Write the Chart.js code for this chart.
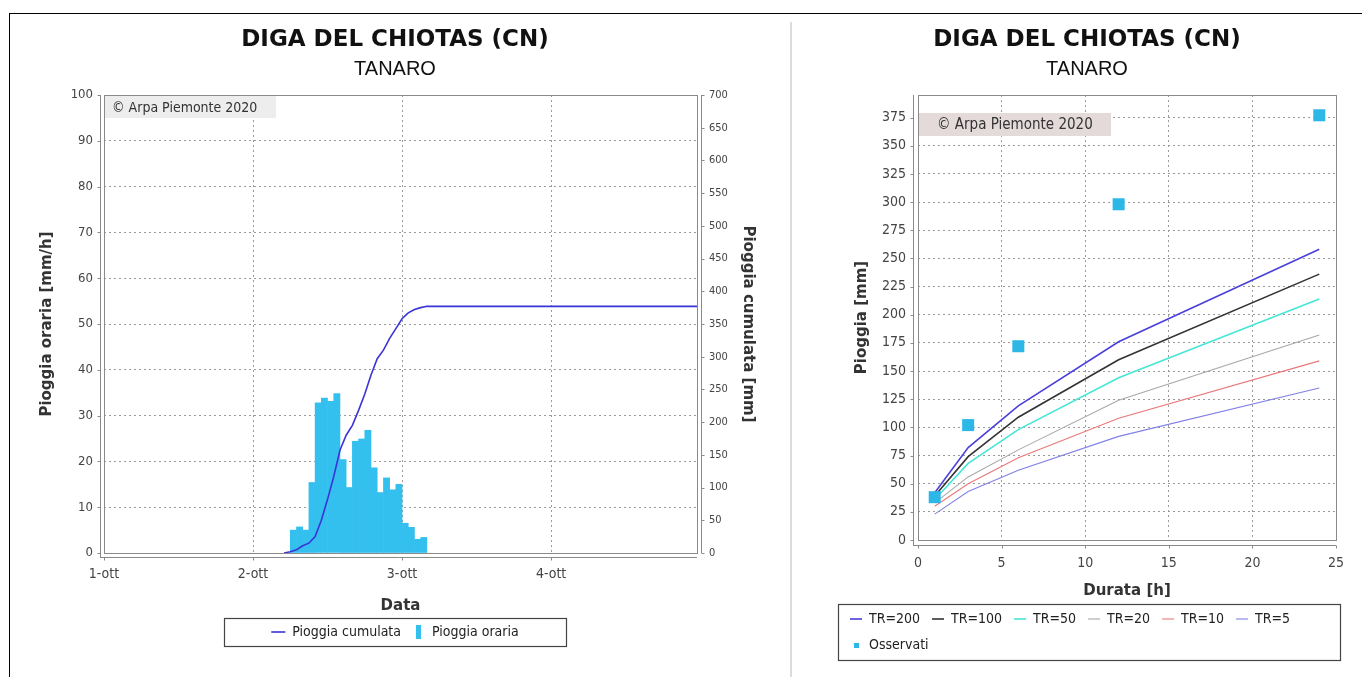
<!DOCTYPE html>
<html>
<head>
<meta charset="utf-8">
<script src="https://cdn.jsdelivr.net/npm/chart.js@4/dist/chart.umd.min.js"></script>
<style>
    html, body { margin: 0; padding: 0; background: #fff; }
    body { width: 1362px; height: 677px; position: relative; overflow: hidden; }
    #frame { position: absolute; left: 9px; top: 13px; right: -2px; bottom: -2px; border-left: 1px solid #000; border-top: 1px solid #000; }
    #divider { position: absolute; left: 790px; top: 22px; bottom: 0; width: 2px; background: #dcdcdc; }
    #left { position: absolute; left: 10px; top: 14px; }
    #right { position: absolute; left: 800px; top: 14px; }
</style>
</head>
<body>
<div id="frame"></div>
<div id="divider"></div>
<canvas id="left" width="770" height="663"></canvas>
<canvas id="right" width="562" height="663"></canvas>
<script>
// left chart: hourly and cumulated rain, time written as "day-ott hh:mm"
const dayLabels = ['1-ott', '2-ott', '3-ott', '4-ott'];
const hourlyTimes = ['2-ott 06:00', '2-ott 07:00', '2-ott 08:00', '2-ott 09:00', '2-ott 10:00', '2-ott 11:00',
    '2-ott 12:00', '2-ott 13:00', '2-ott 14:00', '2-ott 15:00', '2-ott 16:00', '2-ott 17:00',
    '2-ott 18:00', '2-ott 19:00', '2-ott 20:00', '2-ott 21:00', '2-ott 22:00', '2-ott 23:00',
    '3-ott 00:00', '3-ott 01:00', '3-ott 02:00', '3-ott 03:00'];
const hourlyRain = [5, 5.7, 5, 15.4, 32.8, 33.8, 33.1, 34.8, 20.4, 14.3, 24.4, 24.9,
    26.8, 18.6, 13.2, 16.4, 13.8, 15, 6.5, 5.6, 3, 3.4];
const cumTimes = ['2-ott 05:00', '2-ott 06:00', '2-ott 07:00', '2-ott 08:00', '2-ott 09:00', '2-ott 10:00',
    '2-ott 11:00', '2-ott 12:00', '2-ott 13:00', '2-ott 14:00', '2-ott 15:00', '2-ott 16:00',
    '2-ott 17:00', '2-ott 18:00', '2-ott 19:00', '2-ott 20:00', '2-ott 21:00', '2-ott 22:00',
    '2-ott 23:00', '3-ott 00:00', '3-ott 01:00', '3-ott 02:00', '3-ott 03:00', '3-ott 04:00', '4-ott 23:30'];
const cumRain = [0, 2, 5, 11, 15, 25, 50, 82, 117, 157, 180, 195,
    218, 243, 272, 297, 310, 328, 343, 358, 367, 372, 375, 377, 377];

// right chart: depth-duration curves and observed maxima
const durations = [1, 3, 6, 12, 24];
const tr200 = [42, 82, 119, 176, 258];
const tr100 = [39, 74, 109, 160, 236];
const tr50 = [36, 68, 98, 144, 214];
const tr20 = [33, 56, 80, 124, 182];
const tr10 = [30, 50, 73, 108, 159];
const tr5 = [23, 43, 62, 92, 135];
const observed = [38, 102, 172, 298, 377];

const FONT = '"DejaVu Sans Condensed", "DejaVu Sans", sans-serif';
Chart.defaults.font.family = FONT;
Chart.defaults.color = '#444';

function toHours(s) {
    const [d, hm] = s.split(' ');
    const [h, m] = hm.split(':').map(Number);
    return (parseInt(d) - 1) * 24 + h + m / 60;
}

function points(xs, ys) {
    return xs.map((x, i) => ({x: x, y: ys[i]}));
}

function makeMarker(w, h, color) {
    const c = document.createElement('canvas');
    c.width = w;
    c.height = h;
    const g = c.getContext('2d');
    g.fillStyle = color;
    g.fillRect(0, 0, w, h);
    return c;
}

function legendLabels(chart) {
    const items = Chart.defaults.plugins.legend.labels.generateLabels(chart);
    items.sort((a, b) => a.datasetIndex - b.datasetIndex);
    items.forEach(it => {
        const ds = chart.data.datasets[it.datasetIndex];
        if (ds.marker)
            it.pointStyle = makeMarker(ds.marker[0], ds.marker[1], ds.backgroundColor);
    });
    return items;
}

// ticks at whole multiples of step between the axis limits
function stepTicks(step) {
    return s => {
        const out = [];
        for (let v = s.min; v <= s.max + 1e-9; v += step)
            out.push({value: v});
        s.ticks = out;
    };
}

// plot box plus axis lines drawn a few px outside it
const plotFrame = {
    id: 'plotFrame',
    afterDraw(chart, args, opts) {
        const {ctx, chartArea: a} = chart;
        const gap = opts.gap || 4;
        ctx.save();
        ctx.strokeStyle = '#8a8a8a';
        ctx.lineWidth = 1;
        ctx.strokeRect(Math.round(a.left) + 0.5, Math.round(a.top) + 0.5, Math.round(a.width), Math.round(a.height));
        ctx.beginPath();
        Object.values(chart.scales).forEach(scale => {
            if (scale.position === 'left' || scale.position === 'right') {
                const left = scale.position === 'left';
                const x = Math.round(left ? a.left - gap : a.right + gap) + 0.5;
                ctx.moveTo(x, a.top);
                ctx.lineTo(x, a.bottom + (left ? gap : 0));
                scale.ticks.forEach(t => {
                    const y = Math.round(scale.getPixelForValue(t.value)) + 0.5;
                    ctx.moveTo(x, y);
                    ctx.lineTo(left ? x - 3 : x + 3, y);
                });
            } else {
                const y = Math.round(a.bottom + gap) + 0.5;
                ctx.moveTo(a.left - gap, y);
                ctx.lineTo(a.right, y);
                scale.ticks.forEach(t => {
                    const x = Math.round(scale.getPixelForValue(t.value)) + 0.5;
                    ctx.moveTo(x, y);
                    ctx.lineTo(x, y + 3);
                });
            }
        });
        ctx.stroke();
        ctx.restore();
    }
};

const watermark = {
    id: 'watermark',
    beforeDatasetsDraw(chart, args, opts) {
        const {ctx, chartArea: a} = chart;
        ctx.save();
        ctx.fillStyle = opts.bg;
        ctx.fillRect(a.left + 1, a.top + opts.dy, opts.w, opts.h);
        ctx.fillStyle = '#333';
        ctx.font = opts.size + 'px ' + FONT;
        ctx.textBaseline = 'middle';
        ctx.fillText('\u00a9 Arpa Piemonte 2020', a.left + opts.dx, a.top + opts.dy + opts.h / 2 + 1);
        ctx.restore();
    }
};

const legendFrame = {
    id: 'legendFrame',
    afterDraw(chart, args, opts) {
        const lg = chart.legend;
        const hb = lg.legendHitBoxes;
        if (!hb || !hb.length) return;
        const top = Math.min(...hb.map(b => b.top)) - opts.padY;
        const bottom = Math.max(...hb.map(b => b.top + b.height)) + opts.padY;
        let left, right;
        if (opts.width) {
            const c = (Math.min(...hb.map(b => b.left)) + Math.max(...hb.map(b => b.left + b.width))) / 2;
            left = c - opts.width / 2;
            right = c + opts.width / 2;
        } else {
            left = lg.left + (opts.dl || 0);
            right = lg.right + (opts.dr || 0);
        }
        const {ctx} = chart;
        ctx.save();
        ctx.strokeStyle = '#444';
        ctx.lineWidth = 1.2;
        ctx.strokeRect(Math.round(left) + 0.5, Math.round(top) + 0.5, Math.round(right - left), Math.round(bottom - top));
        ctx.restore();
    }
};

const gridStyle = {color: '#9a9a9a', drawTicks: false, lineWidth: 1};
const gridBorder = {display: false, dash: [2, 3]};
const axisTitleFont = {family: '"DejaVu Sans", sans-serif', size: 15, weight: 'bold'};

function titles() {
    return {
        title: {
            display: true, text: 'DIGA DEL CHIOTAS (CN)', color: '#111',
            font: {family: '"DejaVu Sans", sans-serif', size: 23, weight: 'bold'},
            padding: {top: 12.2, bottom: 0}
        },
        subtitle: {
            display: true, text: 'TANARO', color: '#111',
            font: {family: '"Liberation Sans", Arial, sans-serif', size: 20},
            padding: {top: 4, bottom: 13.2}
        }
    };
}

new Chart(document.getElementById('left'), {
    type: 'bar',
    data: {
        datasets: [
            {
                type: 'line',
                label: 'Pioggia cumulata',
                data: points(cumTimes.map(toHours), cumRain),
                yAxisID: 'y1',
                borderColor: '#3a34d8',
                backgroundColor: '#3a34d8',
                borderWidth: 1.6,
                pointRadius: 0,
                pointStyle: 'line',
                tension: 0
            },
            {
                type: 'bar',
                label: 'Pioggia oraria',
                data: points(hourlyTimes.map(t => toHours(t) + 0.5), hourlyRain),
                yAxisID: 'y',
                backgroundColor: '#34c0ef',
                borderWidth: 0,
                barPercentage: 1,
                categoryPercentage: 1,
                marker: [5, 14]
            }
        ]
    },
    options: {
        responsive: false,
        animation: false,
        events: [],
        layout: {padding: {left: 22, right: 22, top: 0, bottom: 28}},
        scales: {
            x: {
                type: 'linear', min: 0, max: 95.5, offset: false,
                afterBuildTicks: stepTicks(24),
                afterFit: s => { s.height = 62; },
                ticks: {autoSkip: false, maxRotation: 0, padding: 13, color: '#444',
                    font: {size: 14}, callback: v => dayLabels[Math.round(v / 24)]},
                grid: {...gridStyle, offset: false},
                border: gridBorder,
                title: {display: true, text: 'Data', color: '#333', font: axisTitleFont, padding: {top: 9, bottom: 0}}
            },
            y: {
                position: 'left', min: 0, max: 100,
                afterBuildTicks: stepTicks(10),
                afterFit: s => { s.width = 72; },
                ticks: {padding: 11, color: '#444', font: {size: 13}},
                grid: gridStyle,
                border: gridBorder,
                title: {display: true, text: 'Pioggia oraria [mm/h]', color: '#333', font: axisTitleFont, padding: {top: 6, bottom: 0}}
            },
            y1: {
                position: 'right', min: 0, max: 700,
                afterBuildTicks: stepTicks(50),
                afterFit: s => { s.width = 61; },
                ticks: {padding: 12, color: '#444', font: {size: 11}},
                grid: {drawOnChartArea: false, drawTicks: false},
                border: {display: false},
                title: {display: true, text: 'Pioggia cumulata [mm]', color: '#333', font: axisTitleFont, padding: {top: 1, bottom: 0}}
            }
        },
        plugins: {
            ...titles(),
            legend: {
                position: 'bottom',
                labels: {usePointStyle: true, pointStyleWidth: 14, padding: 10, color: '#222',
                    font: {size: 14}, generateLabels: legendLabels}
            },
            tooltip: {enabled: false},
            plotFrame: {gap: 4},
            watermark: {dx: 8, dy: 1, w: 171, h: 22, size: 14, bg: '#ededed'},
            legendFrame: {padY: 7, width: 342}
        }
    },
    plugins: [watermark, plotFrame, legendFrame]
});

const trColors = ['#4a3fda', '#333333', '#46e6d6', '#a8a8a8', '#ea7878', '#8080e6'];
const trSeries = [tr200, tr100, tr50, tr20, tr10, tr5];
const trLabels = ['TR=200', 'TR=100', 'TR=50', 'TR=20', 'TR=10', 'TR=5'];
const trWidths = [1.6, 1.6, 1.6, 1.1, 1.1, 1.1];

new Chart(document.getElementById('right'), {
    type: 'line',
    data: {
        datasets: [
            ...trSeries.map((s, i) => ({
                label: trLabels[i],
                data: points(durations, s),
                borderColor: trColors[i],
                backgroundColor: trColors[i],
                borderWidth: trWidths[i],
                pointRadius: 0,
                pointStyle: 'line',
                tension: 0
            })),
            {
                label: 'Osservati',
                data: points(durations, observed),
                showLine: false,
                pointStyle: 'rect',
                pointRadius: 8.5,
                borderWidth: 0,
                backgroundColor: '#2db7e6',
                borderColor: '#2db7e6',
                order: -1,
                marker: [5, 5]
            }
        ]
    },
    options: {
        responsive: false,
        animation: false,
        events: [],
        layout: {padding: {left: 38, right: 26, top: 0, bottom: 15}},
        scales: {
            x: {
                type: 'linear', min: 0, max: 25,
                afterBuildTicks: stepTicks(5),
                afterFit: s => { s.height = 60; },
                ticks: {padding: 15, color: '#444', font: {size: 14}, maxRotation: 0, autoSkip: false},
                grid: gridStyle,
                border: gridBorder,
                title: {display: true, text: 'Durata [h]', color: '#333', font: axisTitleFont, padding: {top: 8, bottom: 0}}
            },
            y: {
                min: 0, max: 395,
                afterBuildTicks: stepTicks(25),
                afterFit: s => { s.width = 80; },
                ticks: {padding: 12, color: '#444', font: {size: 14}, autoSkip: false},
                grid: gridStyle,
                border: gridBorder,
                title: {display: true, text: 'Pioggia [mm]', color: '#333', font: axisTitleFont, padding: {top: 15, bottom: 0}}
            }
        },
        plugins: {
            ...titles(),
            legend: {
                position: 'bottom', align: 'start',
                labels: {usePointStyle: true, pointStyleWidth: 12, padding: 12, color: '#222',
                    font: {size: 14}, generateLabels: legendLabels}
            },
            tooltip: {enabled: false},
            plotFrame: {gap: 5},
            watermark: {dx: 19, dy: 18, w: 192, h: 23, size: 15, bg: '#e4dada'},
            legendFrame: {padY: 8, dl: 0, dr: 4}
        }
    },
    plugins: [watermark, plotFrame, legendFrame]
});
</script>
</body>
</html>
